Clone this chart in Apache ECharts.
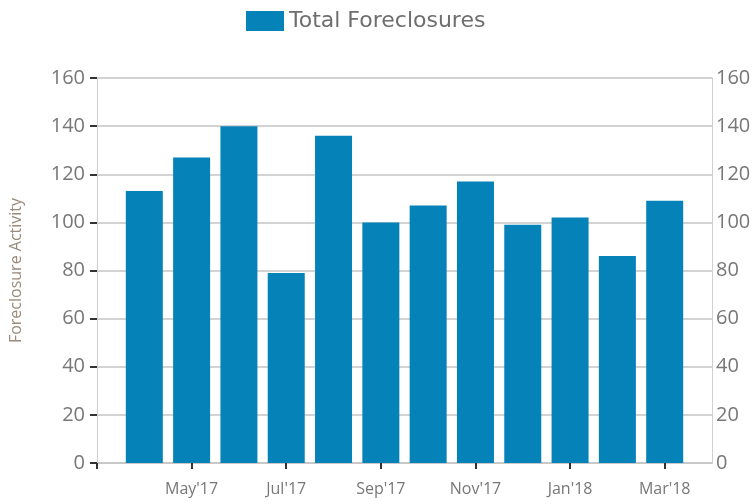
<!DOCTYPE html>
<html>
<head>
<meta charset="utf-8">
<script src="https://cdn.jsdelivr.net/npm/echarts@6/dist/echarts.min.js"></script>
<style>
  html, body { margin: 0; padding: 0; background: #fff; }
  #chart { width: 755px; height: 504px; }
</style>
</head>
<body>
<div id="chart"></div>
<script>
// monthly foreclosure counts, Apr'17 .. Mar'18
const months = ["Apr'17", "May'17", "Jun'17", "Jul'17", "Aug'17", "Sep'17",
  "Oct'17", "Nov'17", "Dec'17", "Jan'18", "Feb'18", "Mar'18"];
const foreclosures = [113, 127, 140, 79, 136, 100, 107, 117, 99, 102, 86, 109];
const yTicks = [0, 20, 40, 60, 80, 100, 120, 140, 160];

const barColor = '#0582b8';
const labelColor = '#777';

// month i sits at x = i + 1; half a slot of padding each side of the bars
const barData = foreclosures.map((v, i) => [i + 1, v]);
const labelPositions = months.map((m, i) => i + 1).filter(x => x % 2 === 0);
const tickPositions = [0].concat(labelPositions);

const myChart = echarts.init(document.getElementById('chart'));

const yAxisBase = {
  type: 'value',
  min: yTicks[0],
  max: yTicks[yTicks.length - 1],
  interval: yTicks[1] - yTicks[0],
  axisLine: { show: true, lineStyle: { color: '#d0d0d0', width: 1 } },
  axisLabel: { color: labelColor, fontSize: 20, fontFamily: 'Open Sans' },
};

const option = {
  animation: false,
  legend: {
    top: 5,
    left: 241,
    icon: 'rect',
    itemWidth: 38,
    itemHeight: 20,
    itemGap: 10,
    textStyle: { color: '#6e6e6e', fontSize: 22, fontFamily: 'DejaVu Sans' },
    data: ['Total Foreclosures'],
  },
  grid: { left: 97, right: 43, top: 78, bottom: 41 },
  xAxis: {
    type: 'value',
    min: 0,
    max: months.length + 1,
    axisLine: { show: true, onZero: false, lineStyle: { color: '#c8c8c8', width: 2 } },
    axisTick: { show: true, length: 6, customValues: tickPositions, lineStyle: { color: '#333', width: 2 } },
    axisLabel: {
      customValues: labelPositions,
      color: labelColor,
      fontSize: 16,
      fontFamily: 'Open Sans',
      margin: 18,
      formatter: v => months[v - 1] || '',
    },
    splitLine: { show: false },
  },
  yAxis: [
    Object.assign({}, yAxisBase, {
      position: 'left',
      name: 'Foreclosure Activity',
      nameLocation: 'middle',
      nameGap: 73,
      nameTextStyle: { color: '#9a8a7a', fontSize: 16, fontFamily: 'Open Sans' },
      axisTick: { show: true, length: 7, lineStyle: { color: '#333', width: 2 } },
      axisLabel: Object.assign({}, yAxisBase.axisLabel, { margin: 12 }),
      splitLine: { show: true, lineStyle: { color: '#c4c4c4', width: 1.5 } },
    }),
    Object.assign({}, yAxisBase, {
      position: 'right',
      axisTick: { show: false },
      axisLabel: Object.assign({}, yAxisBase.axisLabel, { margin: 4 }),
      splitLine: { show: false },
    }),
  ],
  series: [
    {
      name: 'Total Foreclosures',
      type: 'bar',
      barWidth: 37,
      itemStyle: { color: barColor },
      data: barData,
    },
  ],
};

myChart.setOption(option);
</script>
</body>
</html>
